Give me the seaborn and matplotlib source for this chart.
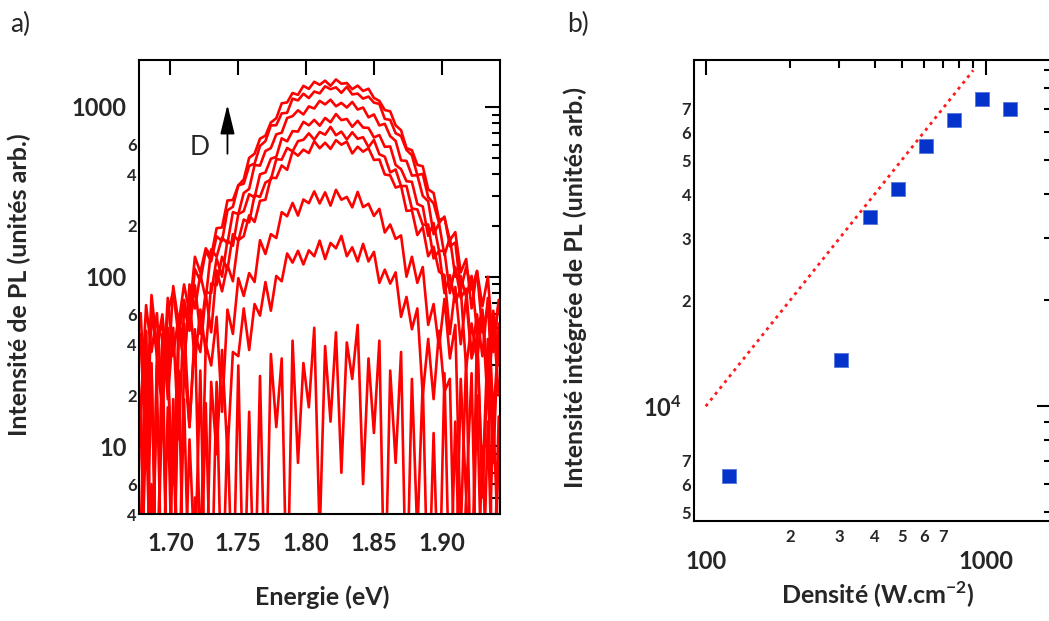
import numpy as np
import pandas as pd
import matplotlib
matplotlib.use('Agg')
import matplotlib.pyplot as plt
import seaborn as sns
from matplotlib.ticker import FixedLocator, FuncFormatter, NullLocator

# a) spectres de PL (energie en eV, intensite en unites arb.)
energie = [1.678, 1.682, 1.686, 1.690, 1.694, 1.698, 1.702, 1.706, 1.710, 1.714,
           1.718, 1.722, 1.726, 1.730, 1.734, 1.738, 1.742, 1.746, 1.750, 1.754,
           1.758, 1.762, 1.766, 1.770, 1.774, 1.778, 1.782, 1.786, 1.790, 1.794,
           1.798, 1.802, 1.806, 1.810, 1.814, 1.818, 1.822, 1.826, 1.830, 1.834,
           1.838, 1.842, 1.846, 1.850, 1.854, 1.858, 1.862, 1.866, 1.870, 1.874,
           1.878, 1.882, 1.886, 1.890, 1.894, 1.898, 1.902, 1.906, 1.910, 1.914,
           1.918, 1.922, 1.926, 1.930, 1.934, 1.938, 1.942]

spectre_1 = [61, 14, 78, 39, 60, 25, 88, 53, 90, 61, 131, 106, 147, 132, 193, 195, 281, 283, 345, 374,
             501, 530, 650, 677, 810, 857, 1050, 1063, 1208, 1178, 1331, 1277, 1406, 1350, 1428, 1331,
             1452, 1369, 1383, 1272, 1335, 1242, 1280, 1130, 1085, 959, 942, 779, 729, 572, 556, 456,
             447, 327, 311, 216, 222, 164, 183, 106, 127, 65, 108, 67, 100, 36, 73]
spectre_2 = [16, 68, 36, 61, 17, 62, 82, 44, 73, 51, 111, 94, 142, 123, 173, 162, 246, 258, 345, 353,
             449, 464, 589, 629, 777, 781, 916, 924, 1119, 1092, 1196, 1128, 1232, 1202, 1323, 1272,
             1304, 1211, 1314, 1185, 1198, 1119, 1151, 1060, 1042, 850, 838, 700, 673, 558, 519, 397,
             403, 294, 270, 207, 226, 151, 159, 83, 114, 84, 108, 47, 67, 40, 71]
spectre_3 = [45, 8, 63, 34, 21, 75, 34, 59, 29, 90, 65, 103, 74, 145, 131, 170, 157, 240, 234, 311,
             329, 455, 451, 550, 572, 689, 705, 860, 883, 955, 903, 1007, 979, 1085, 1035, 1103,
             1009, 1056, 992, 1070, 965, 992, 868, 903, 778, 795, 672, 631, 484, 481, 394, 396,
             299, 278, 178, 206, 134, 170, 100, 101, 76, 101, 47, 64, 24, 63, 30]
spectre_4 = [17, 48, 1, 36, 57, 19, 50, 11, 66, 48, 89, 46, 81, 80, 128, 100, 164, 152, 234, 243,
             306, 293, 401, 411, 495, 508, 653, 627, 720, 716, 817, 779, 839, 775, 861, 812,
             908, 836, 850, 764, 828, 756, 752, 661, 683, 582, 585, 455, 430, 365, 362, 268,
             259, 174, 207, 142, 142, 80, 114, 75, 85, 34, 60, 34, 75, 15, 44]
spectre_5 = [46, 10, 29, 1, 46, 26, 6, 52, 30, 77, 31, 64, 36, 91, 89, 131, 110, 178, 163, 217,
             209, 302, 295, 359, 373, 492, 489, 573, 547, 629, 640, 699, 641, 712, 686, 763,
             681, 715, 643, 709, 649, 663, 580, 639, 526, 509, 411, 428, 342, 342, 252, 249,
             202, 203, 128, 142, 80, 102, 71, 85, 29, 53, 32, 61, 17, 56, 20]
spectre_6 = [3, 47, 1, 30, 17, 50, 1, 43, 53, 13, 46, 36, 79, 47, 109, 82, 117, 94, 164, 173,
             230, 210, 280, 284, 383, 381, 452, 426, 547, 516, 560, 535, 628, 571, 615, 566,
             637, 599, 624, 532, 583, 545, 572, 487, 490, 400, 395, 335, 343, 244, 246, 176,
             196, 132, 150, 107, 102, 46, 87, 40, 75, 33, 44, 6, 43, 8, 53]
spectre_7 = [18, 1, 31, 1, 41, 1, 19, 1, 32, 13, 49, 2, 40, 30, 58, 16, 64, 46, 98, 77,
             105, 93, 164, 136, 178, 169, 240, 227, 272, 229, 285, 271, 318, 270, 314, 262,
             325, 284, 295, 256, 316, 257, 269, 228, 251, 182, 203, 167, 175, 100, 131, 92,
             114, 52, 69, 38, 74, 33, 52, 3, 33, 1, 50, 5, 30, 1, 15]
spectre_8 = [1, 14, 1, 23, 1, 17, 1, 28, 1, 11, 2, 28, 1, 24, 9, 37, 9, 36, 34, 65,
             37, 69, 59, 93, 63, 101, 94, 137, 121, 142, 118, 143, 132, 163, 127, 158,
             147, 174, 132, 149, 123, 156, 123, 140, 92, 110, 91, 106, 58, 76, 49, 65,
             20, 43, 19, 48, 21, 25, 1, 25, 5, 27, 1, 10, 1, 16, 2]
spectre_9 = [14, 1, 6, 1, 24, 1, 11, 1, 19, 1, 5, 1, 18, 1, 24, 1, 13, 1, 30, 1,
             16, 1, 26, 1, 35, 13, 33, 1, 42, 8, 31, 17, 50, 3, 39, 14,
             47, 7, 41, 25, 52, 6, 33, 12, 42, 1, 28, 8, 36, 1, 25, 3,
             24, 1, 12, 1, 27, 1, 14, 1, 5, 1, 20, 1, 14, 1, 9]

# b) intensite integree en fonction de la densite
densite = [121, 305, 385, 484, 611, 769, 968, 1219]
intensite_integree = [6340, 13510, 34500, 41500, 54900, 64900, 74700, 70000]
ajust_densite = [100, 900]
ajust_intensite = [10000, 90000]

# Style
sns.set_style('white')
plt.rcParams['font.family'] = ['Lato', 'DejaVu Sans']
plt.rcParams['font.weight'] = 'bold'
plt.rcParams['mathtext.fontset'] = 'custom'
plt.rcParams['mathtext.rm'] = 'Lato'
plt.rcParams['mathtext.bf'] = 'Lato:bold'
plt.rcParams['axes.linewidth'] = 1.5

fig = plt.figure(figsize=(10.49, 6.21), dpi=100)
ax1 = fig.add_axes([0.1328, 0.1723, 0.3439, 0.7311])
ax2 = fig.add_axes([0.6616, 0.1610, 0.3413, 0.7424])


def mantisse(v):
    return int(round(v / 10 ** np.floor(np.log10(v))))


# ---- panel a ----
spectres = [spectre_1, spectre_2, spectre_3, spectre_4, spectre_5,
            spectre_6, spectre_7, spectre_8, spectre_9]
df = pd.DataFrame({
    'Energie': np.tile(energie, len(spectres)),
    'Intensite': np.concatenate(spectres),
    'spectre': np.repeat(np.arange(len(spectres)), len(energie)),
})
ax1.set_yscale('log')
sns.lineplot(data=df, x='Energie', y='Intensite', units='spectre', estimator=None,
             color='#ff0000', linewidth=1.9, ax=ax1)
ax1.set_xlim(1.677, 1.943)
ax1.set_ylim(4, 1890)

ax1.xaxis.set_major_locator(FixedLocator([1.70, 1.75, 1.80, 1.85, 1.90]))
ax1.xaxis.set_major_formatter(FuncFormatter(lambda v, p: f'{v:.2f}'))
ax1.xaxis.set_minor_locator(NullLocator())
ax1.yaxis.set_major_locator(FixedLocator([10, 100, 1000]))
ax1.yaxis.set_major_formatter(FuncFormatter(lambda v, p: f'{v:.0f}'))
ax1.yaxis.set_minor_locator(FixedLocator([m * 10 ** k for k in range(0, 4) for m in range(2, 10)]))
ax1.yaxis.set_minor_formatter(FuncFormatter(
    lambda v, p: str(mantisse(v)) if mantisse(v) in (2, 4, 6) else ''))

ax1.tick_params(which='both', direction='in', top=True, right=True, width=1.5, color='black')
ax1.tick_params(which='major', length=11)
ax1.tick_params(which='minor', length=6)
ax1.tick_params(axis='x', labelsize=17, pad=13)
ax1.tick_params(axis='y', which='major', labelsize=17, pad=9)
ax1.tick_params(axis='y', which='minor', labelsize=12, pad=2)

ax1.set_xlabel('Energie (eV)', fontsize=18, fontweight='bold')
ax1.set_ylabel('Intensité de PL (unités arb.)', fontsize=18, fontweight='bold')
ax1.xaxis.set_label_coords(0.506, -0.158)
ax1.yaxis.set_label_coords(-0.30, 0.504)

ax1.annotate('', xy=(1.742, 1030), xytext=(1.742, 530),
             arrowprops=dict(arrowstyle='-|>,head_length=0.9,head_width=0.22',
                             color='black', lw=1.3, mutation_scale=20,
                             shrinkA=0, shrinkB=0))
ax1.text(1.7217, 575, 'D', fontsize=19, fontweight='normal', ha='center', va='center')

# ---- panel b ----
ax2.set_xscale('log')
ax2.set_yscale('log')
sns.lineplot(x=ajust_densite, y=ajust_intensite, color='#ff1a1a', linewidth=2,
             linestyle=(0, (1.1, 1.6)), ax=ax2)
sns.scatterplot(x=densite, y=intensite_integree, marker='s', s=100, color='#0433cc',
                edgecolor='#5577dd', linewidth=0.6, ax=ax2, zorder=3)
ax2.set_xlim(90.8, 1720)
ax2.set_ylim(4720, 96300)

ax2.xaxis.set_major_locator(FixedLocator([100, 1000]))
ax2.xaxis.set_major_formatter(FuncFormatter(lambda v, p: f'{v:.0f}'))
ax2.xaxis.set_minor_locator(FixedLocator([m * 100 for m in range(2, 10)]))
ax2.xaxis.set_minor_formatter(FuncFormatter(
    lambda v, p: str(mantisse(v)) if mantisse(v) <= 7 else ''))
ax2.yaxis.set_major_locator(FixedLocator([1e4]))
ax2.yaxis.set_major_formatter(FuncFormatter(lambda v, p: r'$\mathbf{10^{4}}$'))
ax2.yaxis.set_minor_locator(FixedLocator([m * 1000 for m in range(5, 10)] +
                                         [m * 10000 for m in range(2, 10)]))
ax2.yaxis.set_minor_formatter(FuncFormatter(
    lambda v, p: str(mantisse(v)) if mantisse(v) <= 7 else ''))

ax2.tick_params(which='both', direction='in', top=True, right=True, width=1.5, color='black')
ax2.tick_params(which='major', length=11)
ax2.tick_params(which='minor', length=6)
ax2.tick_params(axis='x', which='major', labelsize=17, pad=21)
ax2.tick_params(axis='x', which='minor', labelsize=12, pad=6)
ax2.tick_params(axis='y', which='major', labelsize=17, pad=9)
ax2.tick_params(axis='y', which='minor', labelsize=12, pad=2)

ax2.set_xlabel(r'Densité (W.cm$^{\mathbf{-2}}$)', fontsize=18, fontweight='bold')
ax2.set_ylabel('Intensité intégrée de PL (unités arb.)', fontsize=18, fontweight='bold')
ax2.xaxis.set_label_coords(0.513, -0.128)
ax2.yaxis.set_label_coords(-0.30, 0.506)

for ax in (ax1, ax2):
    for side in ax.spines.values():
        side.set_visible(True)
        side.set_color('black')
        side.set_linewidth(1.5)

fig.text(10 / 1049, 1 - 24 / 621, 'a)', fontsize=19, fontweight='normal', va='center')
fig.text(567 / 1049, 1 - 24 / 621, 'b)', fontsize=19, fontweight='normal', va='center')

fig.savefig('out.png', dpi=100)
